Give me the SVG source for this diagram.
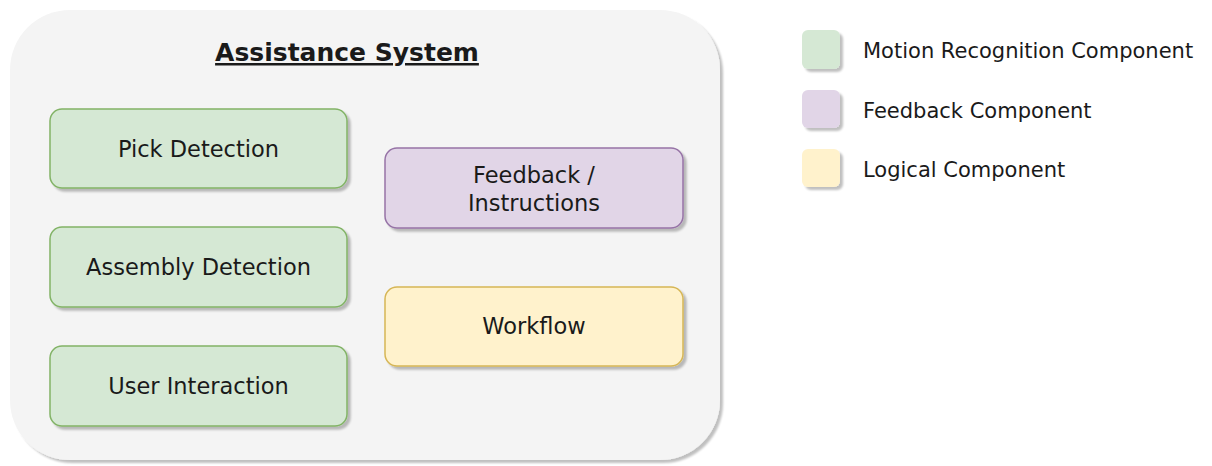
<svg xmlns="http://www.w3.org/2000/svg" width="1212" height="466" viewBox="0 0 1212 466">
<defs>
<filter id="sh" x="-10%" y="-10%" width="130%" height="130%">
<feGaussianBlur in="SourceAlpha" stdDeviation="1"/>
<feOffset dx="3" dy="3" result="o"/>
<feComponentTransfer><feFuncA type="linear" slope="0.25"/></feComponentTransfer>
<feMerge><feMergeNode/><feMergeNode in="SourceGraphic"/></feMerge>
</filter>
<style>
text{font-family:"DejaVu Sans",Verdana,sans-serif;fill:#1a1a1a}
.lbl{font-size:22.5px;text-anchor:middle}
.leg{font-size:21px}
.g{fill:#d5e8d4;stroke:#82b366;stroke-width:1.5}
.p{fill:#e1d5e7;stroke:#9673a6;stroke-width:1.5}
.y{fill:#fff2cc;stroke:#d6b656;stroke-width:1.5}
</style>
</defs>
<rect width="1212" height="466" fill="#ffffff"/>
<g id="container">
<rect x="10" y="10" width="710" height="450" rx="60" fill="#f4f4f4" filter="url(#sh)"/>
<text x="347" y="61" text-anchor="middle" font-size="25" font-weight="bold" text-decoration="underline">Assistance System</text>
</g>
<g id="pick">
<rect class="g" x="50" y="109" width="297" height="79" rx="12" filter="url(#sh)"/>
<text class="lbl" x="198.5" y="157">Pick Detection</text>
</g>
<g id="assembly">
<rect class="g" x="50" y="227" width="297" height="80" rx="12" filter="url(#sh)"/>
<text class="lbl" x="198.5" y="275">Assembly Detection</text>
</g>
<g id="user">
<rect class="g" x="50" y="346" width="297" height="80" rx="12" filter="url(#sh)"/>
<text class="lbl" x="198.5" y="394">User Interaction</text>
</g>
<g id="feedback">
<rect class="p" x="385" y="148" width="298" height="80" rx="12" filter="url(#sh)"/>
<text class="lbl" x="534" y="183">Feedback /</text>
<text class="lbl" x="534" y="211">Instructions</text>
</g>
<g id="workflow">
<rect class="y" x="385" y="287" width="298" height="79" rx="12" filter="url(#sh)"/>
<text class="lbl" x="534" y="334">Workflow</text>
</g>
<g id="legend">
<rect x="802" y="30" width="38" height="39" rx="6" fill="#d5e8d4" filter="url(#sh)"/>
<rect x="802" y="90" width="38" height="38" rx="6" fill="#e1d5e7" filter="url(#sh)"/>
<rect x="802" y="149" width="38" height="38" rx="6" fill="#fff2cc" filter="url(#sh)"/>
<text class="leg" x="863" y="58">Motion Recognition Component</text>
<text class="leg" x="863" y="118">Feedback Component</text>
<text class="leg" x="863" y="177">Logical Component</text>
</g>
<g id="connectors"></g>
</svg>
